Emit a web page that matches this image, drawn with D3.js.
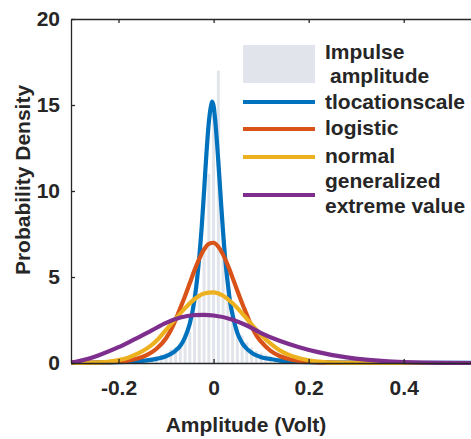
<!DOCTYPE html>
<html>
<head>
<meta charset="utf-8">
<script src="https://cdn.jsdelivr.net/npm/d3@7"></script>
<style>
  html, body { margin: 0; padding: 0; background: #fff; }
  svg { display: block; }
  text { font-family: "Liberation Sans", Arial, Helvetica, sans-serif; font-weight: bold; fill: #262626; }
</style>
</head>
<body>
<svg id="chart" width="471" height="439"></svg>
<script>
// ---------- data ----------
const xTicks = [-0.2, 0, 0.2, 0.4];
const xTickLabels = ["-0.2", "0", "0.2", "0.4"];
const yTicks = [0, 5, 10, 15, 20];
const yTickLabels = ["0", "5", "10", "15", "20"];

const binWidth = 0.01;
const binCenters = [-0.15,-0.14,-0.13,-0.12,-0.11,-0.10,-0.09,-0.08,-0.07,-0.06,-0.05,-0.04,-0.03,-0.02,-0.01,
                    0.00,0.01,0.02,0.03,0.04,0.05,0.06,0.07,0.08,0.09,0.10,0.11,0.12,0.13,0.14,0.15];
const binHeights = [0.2,0.3,0.3,0.4,0.5,0.6,0.8,0.9,1.1,1.4,1.8,2.6,4.0,6.5,11.0,
                    14.5,17.0,7.5,4.5,3.0,2.1,1.6,1.2,0.9,0.7,0.6,0.5,0.4,0.3,0.3,0.2];

const tlsX = [-0.30,-0.25,-0.20,-0.17,-0.14,-0.12,-0.10,-0.09,-0.08,-0.07,-0.06,-0.05,-0.04,-0.035,-0.03,-0.025,-0.02,-0.015,-0.01,-0.005,-0.003,0,0.005,0.01,0.015,0.02,0.025,0.03,0.035,0.04,0.05,0.06,0.07,0.08,0.09,0.10,0.12,0.14,0.17,0.20,0.25,0.30,0.40,0.55];
const tlsY = [0.02,0.03,0.05,0.085,0.15,0.24,0.39,0.53,0.72,1.0,1.5,2.3,3.7,4.8,6.2,7.9,10.0,12.2,14.0,15.0,15.2,14.95,13.6,11.7,9.6,7.6,5.9,4.6,3.5,2.8,1.75,1.17,0.82,0.60,0.44,0.34,0.23,0.14,0.077,0.048,0.03,0.02,0.01,0.005];

const logX = [-0.30,-0.24,-0.20,-0.18,-0.16,-0.14,-0.12,-0.10,-0.09,-0.08,-0.07,-0.06,-0.05,-0.04,-0.03,-0.02,-0.01,0,0.01,0.02,0.03,0.04,0.05,0.06,0.07,0.08,0.09,0.10,0.12,0.14,0.16,0.18,0.20,0.24,0.30,0.40,0.55];
const logY = [0.005,0.028,0.08,0.14,0.26,0.47,0.83,1.44,1.9,2.5,3.2,3.9,4.65,5.4,6.07,6.6,6.93,6.99,6.76,6.3,5.68,4.95,4.2,3.47,2.8,2.13,1.6,1.24,0.70,0.39,0.22,0.12,0.07,0.022,0.005,0.001,0];

const normX = [-0.30,-0.26,-0.22,-0.20,-0.18,-0.16,-0.14,-0.12,-0.10,-0.08,-0.06,-0.04,-0.02,0,0.02,0.04,0.06,0.08,0.10,0.12,0.14,0.16,0.18,0.20,0.22,0.26,0.30,0.40,0.55];
const normY = [0.003,0.017,0.084,0.167,0.31,0.54,0.85,1.3,1.93,2.56,3.19,3.72,4.04,4.11,3.91,3.47,2.89,2.24,1.63,1.12,0.72,0.46,0.28,0.16,0.085,0.02,0.004,0,0];

const gevX = [-0.30,-0.29,-0.27,-0.24,-0.20,-0.17,-0.13,-0.10,-0.07,-0.04,-0.02,0.00,0.04,0.07,0.10,0.14,0.18,0.22,0.25,0.28,0.32,0.36,0.40,0.44,0.48,0.55];
const gevY = [0.03,0.07,0.2,0.47,0.92,1.33,1.9,2.33,2.64,2.78,2.80,2.76,2.52,2.18,1.74,1.28,0.92,0.63,0.46,0.33,0.2,0.11,0.055,0.02,0.006,0];

const seriesNames = ["tlocationscale", "logistic", "normal", "generalized extreme value"];
const seriesColors = ["#0072BD", "#D95319", "#EDB120", "#7E2F8E"];
const seriesX = [tlsX, logX, normX, gevX];
const seriesY = [tlsY, logY, normY, gevY];

// ---------- layout ----------
const svg = d3.select("#chart");
const x = d3.scaleLinear().domain([-0.3, 0.55]).range([71, 475]);
const y = d3.scaleLinear().domain([0, 20]).range([363, 19]);
const barColor = "#e1e4ea";
const FS = 21;

// histogram
svg.append("g").selectAll("rect")
  .data(binCenters.map((c, i) => ({c, h: binHeights[i]})))
  .join("rect")
  .attr("x", d => x(d.c - binWidth / 2) + 0.9)
  .attr("width", d => x(d.c + binWidth / 2) - x(d.c - binWidth / 2) - 1.8)
  .attr("y", d => y(d.h))
  .attr("height", d => y(0) - y(d.h))
  .attr("fill", barColor);

// curves
const line = d3.line().x(d => x(d[0])).y(d => y(d[1])).curve(d3.curveMonotoneX);
seriesX.forEach((xs, i) => {
  svg.append("path")
    .datum(xs.map((v, j) => [v, seriesY[i][j]]))
    .attr("d", line)
    .attr("fill", "none")
    .attr("stroke", seriesColors[i])
    .attr("stroke-width", 4.2)
    .attr("stroke-linejoin", "round");
});

// axes
const axisColor = "#262626";
function styleAxis(g) {
  g.selectAll("path.domain").attr("stroke", axisColor).attr("stroke-width", 1.3).attr("fill", "none");
  g.selectAll(".tick line").attr("stroke", axisColor).attr("stroke-width", 1.3);
  g.selectAll("text").attr("font-size", FS).attr("fill", "#262626")
    .attr("font-family", "'Liberation Sans', Arial, sans-serif").attr("font-weight", "bold");
}
svg.append("g").attr("transform", `translate(0,${y(0)})`)
  .call(d3.axisBottom(x).tickValues(xTicks).tickFormat((d, i) => xTickLabels[i]).tickSizeInner(-4).tickSizeOuter(0).tickPadding(17))
  .call(styleAxis);
svg.append("g").attr("transform", `translate(0,${y(20)})`)
  .call(d3.axisTop(x).tickValues(xTicks).tickFormat("").tickSizeInner(-4).tickSizeOuter(0))
  .call(styleAxis);
svg.append("g").attr("transform", `translate(${x(-0.3)},0)`)
  .call(d3.axisLeft(y).tickValues(yTicks).tickFormat((d, i) => yTickLabels[i]).tickSizeInner(-4).tickSizeOuter(0).tickPadding(11))
  .call(styleAxis);
svg.append("g").attr("transform", `translate(${x(0.55)},0)`)
  .call(d3.axisRight(y).tickValues(yTicks).tickFormat("").tickSizeInner(-4).tickSizeOuter(0))
  .call(styleAxis);

// axis labels
svg.append("text").attr("x", 246).attr("y", 432).attr("text-anchor", "middle")
  .attr("font-size", FS).text("Amplitude (Volt)");
svg.append("text").attr("transform", "translate(30,180) rotate(-90)").attr("text-anchor", "middle")
  .attr("font-size", FS).text("Probability Density");

// legend
const lg = svg.append("g");
lg.append("rect").attr("x", 243).attr("y", 45).attr("width", 72).attr("height", 38).attr("fill", barColor);
lg.append("text").attr("x", 325).attr("y", 59).attr("font-size", FS).text("Impulse");
lg.append("text").attr("x", 330).attr("y", 83).attr("font-size", FS).text("amplitude");
const legendLineY = [102, 129, 157, 195];
const legendTexts = [["tlocationscale"], ["logistic"], ["normal"], ["generalized", "extreme value"]];
const legendTextY = [[109], [135], [163], [188], [213]];
const legendTextYs = [[109], [135], [163], [188, 213]];
seriesNames.forEach((n, i) => {
  lg.append("line").attr("x1", 243).attr("x2", 315)
    .attr("y1", legendLineY[i]).attr("y2", legendLineY[i])
    .attr("stroke", seriesColors[i]).attr("stroke-width", 4.2);
  legendTexts[i].forEach((t, k) => {
    lg.append("text").attr("x", 325).attr("y", legendTextYs[i][k]).attr("font-size", FS).text(t);
  });
});
</script>
</body>
</html>
